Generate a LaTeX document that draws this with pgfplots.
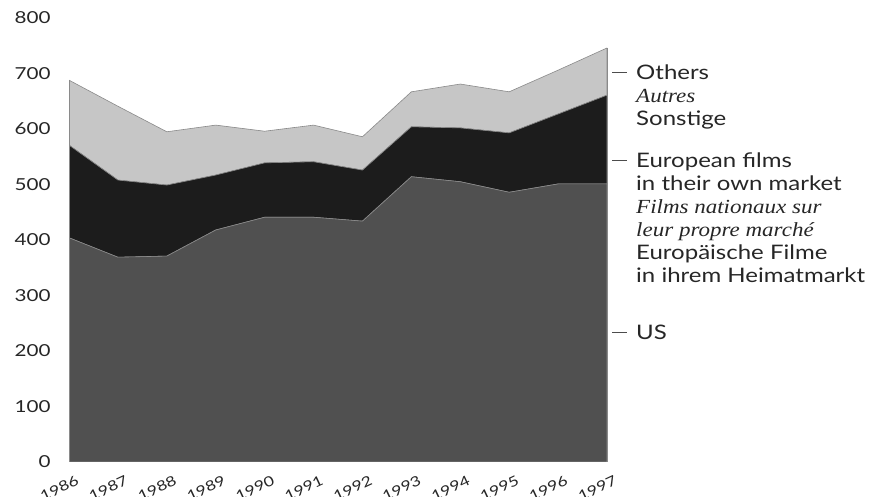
\documentclass[border=0pt]{standalone}
\usepackage{fontspec}
\setmainfont{Lato}[FakeStretch=1.2]
\newfontfamily\itfont{Liberation Serif}[FakeStretch=1.15]
\newfontfamily\tickfont{Lato}[FakeStretch=1.25]
\usepackage{pgfplots}
\pgfplotsset{compat=1.18}

\definecolor{usgray}{HTML}{505050}
\definecolor{eugray}{HTML}{1C1C1C}
\definecolor{othgray}{HTML}{C6C6C6}
\definecolor{edge}{HTML}{8A8A8A}

\begin{document}
\begin{tikzpicture}[x=1pt,y=1pt]
\path[use as bounding box] (0,0) rectangle (884,497);
\begin{axis}[
    at={(69pt,35pt)}, anchor=south west,
    scale only axis, width=538pt, height=444pt,
    xmin=1986, xmax=1997, ymin=0, ymax=800,
    stack plots=y, area style,
    axis line style={draw=none}, major tick length=0pt,
    xtick={1986,1987,...,1997}, ytick={0,100,...,800},
    /pgf/number format/1000 sep={},
    /pgf/number format/assume math mode=true,
    ticklabel style={font=\tickfont\fontsize{16.5}{16.5}\selectfont, text=black!85},
    yticklabel style={anchor=east, xshift=-15pt},
    xticklabel style={font=\tickfont\fontsize{14}{14}\selectfont, rotate=25, anchor=north east, xshift=4pt, yshift=-11pt},
]
% US
\addplot[fill=usgray, draw=edge, line width=0.6pt] coordinates {
(1986,404) (1987,369) (1988,371) (1989,418) (1990,441) (1991,441)
(1992,434) (1993,514) (1994,505) (1995,486) (1996,501) (1997,501)
} \closedcycle;
% European films in their own market
\addplot[fill=eugray, draw=edge, line width=0.6pt] coordinates {
(1986,167) (1987,139) (1988,128) (1989,99) (1990,98) (1991,100)
(1992,92) (1993,90) (1994,97) (1995,107) (1996,126) (1997,160)
} \closedcycle;
% Others
\addplot[fill=othgray, draw=edge, line width=0.6pt] coordinates {
(1986,117) (1987,133) (1988,96) (1989,90) (1990,57) (1991,66)
(1992,60) (1993,63) (1994,79) (1995,74) (1996,79) (1997,85)
} \closedcycle;
\end{axis}
\draw[edge, line width=0.6pt] (69,35) -- (69,417);
\draw[edge, line width=0.6pt] (607,35) -- (607,449);
\begin{scope}[every node/.style={anchor=north west, inner sep=0pt, align=left,
    font=\fontsize{20}{23}\selectfont, text=black!85}]
\draw[black!70, line width=0.8pt] (612,425) -- (627,425);
\node at (636,432) {Others\\{\itfont\itshape Autres}\\Sonstige};
\draw[black!70, line width=0.8pt] (612,337) -- (627,337);
\node at (636,344) {European films\\in their own market\\{\itfont\itshape Films nationaux sur}\\{\itfont\itshape leur propre marché}\\Europäische Filme\\in ihrem Heimatmarkt};
\draw[black!70, line width=0.8pt] (612,165) -- (627,165);
\node at (636,172) {US};
\end{scope}
\end{tikzpicture}
\end{document}
